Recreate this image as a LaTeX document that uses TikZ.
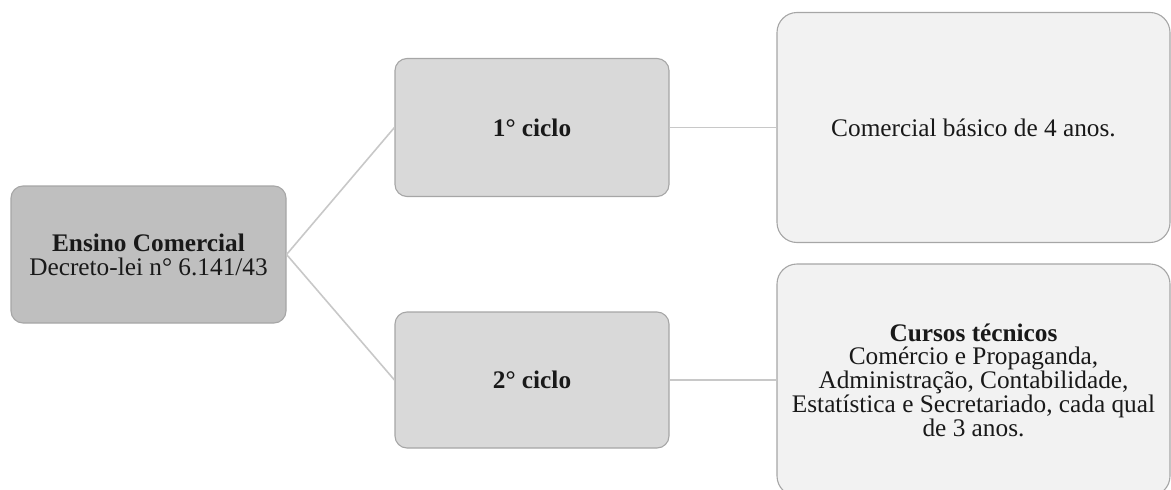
\documentclass[tikz,border=0pt]{standalone}
\usepackage{fontspec}
\setmainfont{Liberation Serif}
\begin{document}
\begin{tikzpicture}[x=1pt,y=-1pt,
  box/.style={draw=boxline, line width=1.1pt, rounded corners=12pt, inner sep=0pt,
    align=center, font=\fontsize{25.3}{23.8}\selectfont, text=black!90},
  rootbox/.style={box, fill=rootfill},
  cyclebox/.style={box, fill=cyclefill},
  infobox/.style={box, fill=infofill, rounded corners=20pt},
  link/.style={draw=linkgray, line width=1.6pt}]
\definecolor{boxline}{HTML}{A6A6A6}
\definecolor{rootfill}{HTML}{BFBFBF}
\definecolor{cyclefill}{HTML}{D9D9D9}
\definecolor{infofill}{HTML}{F2F2F2}
\definecolor{linkgray}{HTML}{C8C8C8}
\useasboundingbox (0,0) rectangle (1171,490);

% root node
\node[rootbox, minimum width=275pt, minimum height=137pt] (root) at (148.5,254.5)
  {\textbf{Ensino Comercial}\\Decreto-lei n° 6.141/43};

% the two cycles
\node[cyclebox, minimum width=274pt, minimum height=138pt] (c1) at (532,127.5) {\textbf{1° ciclo}};
\node[cyclebox, minimum width=274pt, minimum height=136pt] (c2) at (532,380) {\textbf{2° ciclo}};

% course descriptions
\node[infobox, minimum width=393pt, minimum height=230pt] (d1) at (973.5,127.5)
  {Comercial básico de 4 anos.};
\node[infobox, minimum width=393pt, minimum height=232pt] (d2) at (973.5,380)
  {\textbf{Cursos técnicos}\\Comércio e Propaganda,\\Administração, Contabilidade,\\Estatística e Secretariado, cada qual\\de 3 anos.};

% connectors
\draw[link] (root.east) -- (c1.west);
\draw[link] (root.east) -- (c2.west);
\draw[link] (c1.east) -- (d1.west);
\draw[link] (c2.east) -- (d2.west);
\end{tikzpicture}
\end{document}
